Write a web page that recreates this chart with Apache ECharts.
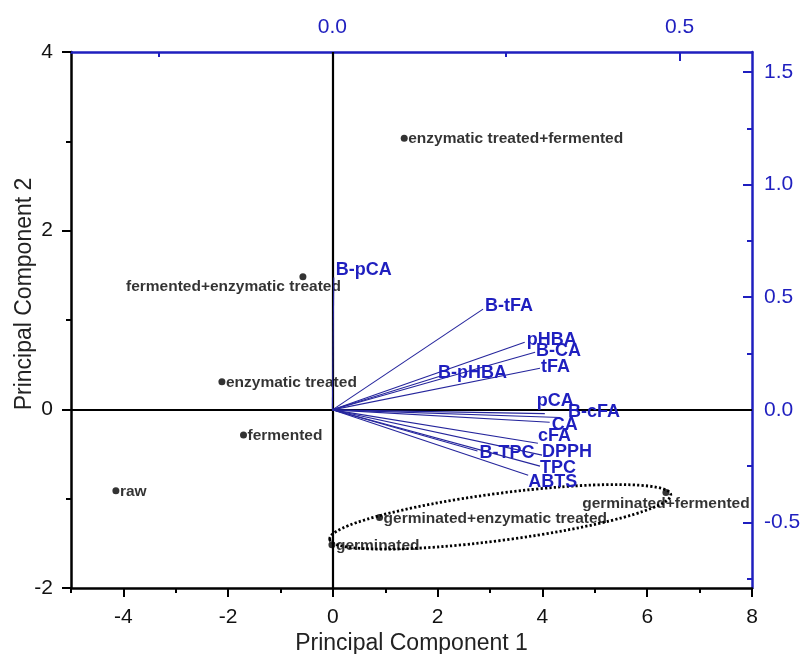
<!DOCTYPE html>
<html><head><meta charset="utf-8">
<script src="https://cdn.jsdelivr.net/npm/echarts@6/dist/echarts.min.js"></script>
<style>html,body{margin:0;padding:0;background:#fff}#c{width:805px;height:654px}</style>
</head><body><div id="c"></div>
<script>
// ---- data ----
const scoreNames = ['raw','fermented','enzymatic treated','fermented+enzymatic treated','enzymatic treated+fermented','germinated','germinated+enzymatic treated','germinated+fermented'];
const scoreX = [-4.143, -1.707, -2.119, -0.573, 1.361, -0.019, 0.890, 6.357];
const scoreY = [-0.912, -0.286, 0.310, 1.484, 3.035, -1.516, -1.211, -0.931];

const loadingNames = ['B-pCA','B-tFA','pHBA','B-CA','tFA','B-pHBA','pCA','B-cFA','CA','cFA','DPPH','B-TPC','TPC','ABTS'];
const loadingX = [0.002, 0.217, 0.277, 0.292, 0.299, 0.155, 0.306, 0.328, 0.313, 0.296, 0.302, 0.209, 0.299, 0.282];
const loadingY = [0.588, 0.447, 0.300, 0.256, 0.185, 0.149, -0.017, -0.034, -0.055, -0.148, -0.201, -0.183, -0.250, -0.290];

// ellipse: two ends of the long axis and half of the short axis (PC units)
const ellipseEnds = [-0.061, -1.454, 6.449, -0.953];
const ellipseHalfMinor = 0.263;

const pc1Major = [-4, -2, 0, 2, 4, 6, 8];
const pc1Minor = [-5, -3, -1, 1, 3, 5, 7];
const pc2Major = [-2, 0, 2, 4];
const pc2Minor = [-1, 1, 3];
const loadXMajor = [0.0, 0.5];
const loadXMinor = [-0.25, 0.25];
const loadYMajor = [-0.5, 0.0, 0.5, 1.0, 1.5];
const loadYMinor = [-0.75, -0.25, 0.25, 0.75, 1.25];

// ---- styles ----
const FONT = '"Liberation Sans", Arial, sans-serif';
const BLUE = '#1f1fbf';
const VEC = '#25259c';
const scoreLabelStyle = {
  'fermented+enzymatic treated': {align: 'right', offset: [38, 10]},
  'germinated+fermented': {align: 'center', offset: [0, 11]}
};
const loadingLabelOffset = {
  'B-pCA': [2, -7], 'B-tFA': [2, -3], 'pHBA': [2, -2], 'B-CA': [1, -1], 'tFA': [1, -1],
  'B-pHBA': [-2, -3], 'pCA': [-8, -13], 'B-cFA': [8, -5], 'CA': [2, 3], 'cFA': [0, -7],
  'DPPH': [0, -3], 'B-TPC': [2, 2], 'TPC': [0, 2], 'ABTS': [0, 7]
};

function mainAxis(pos, min, max, color, major, fmt, inside, margin, name, nameGap, namePad) {
  return {
    type: 'value', position: pos, min: min, max: max,
    axisLine: {show: true, onZero: false, lineStyle: {color: color, width: 2.5}},
    axisTick: {show: true, inside: inside, length: 9, customValues: major, lineStyle: {color: color, width: 2}},
    axisLabel: {show: true, customValues: major, formatter: fmt, color: color === '#000' ? '#111' : color, fontSize: 21, fontFamily: FONT, margin: margin},
    splitLine: {show: false},
    name: name || '', nameLocation: 'middle', nameGap: nameGap || 0, nameMoveOverlap: false,
    nameTextStyle: {color: '#222', fontSize: 23, fontFamily: FONT, padding: namePad || 0}
  };
}
function minorAxis(pos, min, max, color, minor, inside) {
  return {
    type: 'value', position: pos, min: min, max: max,
    axisLine: {show: false, onZero: false},
    axisTick: {show: true, inside: inside, length: 5, customValues: minor, lineStyle: {color: color, width: 2}},
    axisLabel: {show: false},
    splitLine: {show: false}
  };
}

const LX = [-0.3765, 0.6044];
const LY = [-0.791, 1.5887];

const option = {
  animation: false,
  backgroundColor: '#fff',
  grid: {left: 71, right: 53, top: 52, bottom: 66, containLabel: false, outerBoundsMode: 'none'},
  xAxis: [
    mainAxis('bottom', -5, 8, '#000', pc1Major, v => String(v), false, 19, 'Principal Component 1', 44),
    mainAxis('top', LX[0], LX[1], BLUE, loadXMajor, v => v.toFixed(1), true, 14),
    minorAxis('bottom', -5, 8, '#000', pc1Minor, false),
    minorAxis('top', LX[0], LX[1], BLUE, loadXMinor, true)
  ],
  yAxis: [
    mainAxis('left', -2, 4, '#000', pc2Major, v => String(v), false, 18, 'Principal Component 2', 35, [0, 0, 0, 52]),
    mainAxis('right', LY[0], LY[1], BLUE, loadYMajor, v => v.toFixed(1), true, 12),
    minorAxis('left', -2, 4, '#000', pc2Minor, false),
    minorAxis('right', LY[0], LY[1], BLUE, loadYMinor, true)
  ],
  series: [
    {
      type: 'scatter', xAxisIndex: 0, yAxisIndex: 0, z: 3,
      symbol: 'circle', symbolSize: 7,
      itemStyle: {color: '#000'},
      data: scoreNames.map((n, i) => {
        const s = scoreLabelStyle[n] || {align: 'left', offset: [4, 1]};
        return {name: n, value: [scoreX[i], scoreY[i]],
          label: {show: true, position: 'inside', align: s.align, offset: s.offset, formatter: n}};
      }),
      label: {color: '#000', fontWeight: 'bold', fontSize: 15.5, fontFamily: FONT, verticalAlign: 'middle', textBorderWidth: 0, textBorderColor: 'transparent'},
      markLine: {
        silent: true, symbol: 'none', animation: false, z: 1,
        lineStyle: {color: '#000', width: 2.2, type: 'solid'},
        label: {show: false},
        data: [{xAxis: 0}, {yAxis: 0}]
      }
    },
    {
      type: 'custom', xAxisIndex: 0, yAxisIndex: 0, z: 2,
      data: [ellipseEnds.concat([ellipseHalfMinor])],
      renderItem: function (params, api) {
        const p1 = api.coord([api.value(0), api.value(1)]);
        const p2 = api.coord([api.value(2), api.value(3)]);
        const cx = (p1[0] + p2[0]) / 2, cy = (p1[1] + p2[1]) / 2;
        const dx = p2[0] - p1[0], dy = p2[1] - p1[1];
        const rx = Math.sqrt(dx * dx + dy * dy) / 2;
        const ry = api.size([0, api.value(4)])[1];
        return {
          type: 'ellipse', x: cx, y: cy, rotation: -Math.atan2(dy, dx),
          shape: {cx: 0, cy: 0, rx: rx, ry: ry},
          style: {fill: 'none', stroke: '#000', lineWidth: 2.8, lineDash: [2.2, 2.2]}
        };
      }
    },
    {
      type: 'custom', xAxisIndex: 1, yAxisIndex: 1, z: 5,
      data: loadingNames.map((n, i) => [loadingX[i], loadingY[i], i]),
      renderItem: function (params, api) {
        const o = api.coord([0, 0]);
        const p = api.coord([api.value(0), api.value(1)]);
        const name = loadingNames[api.value(2)];
        const off = loadingLabelOffset[name] || [2, 0];
        return {
          type: 'group',
          children: [
            {type: 'line', shape: {x1: o[0], y1: o[1], x2: p[0], y2: p[1]},
             style: {stroke: VEC, lineWidth: 1.1}},
            {type: 'text', x: p[0] + off[0], y: p[1] + off[1],
             style: {text: name, fill: BLUE, font: 'bold 18px ' + FONT, align: 'left', verticalAlign: 'middle'}}
          ]
        };
      }
    }
  ]
};
const chart = echarts.init(document.getElementById('c'), null, {renderer: 'canvas'});
chart.setOption(option);
</script></body></html>
